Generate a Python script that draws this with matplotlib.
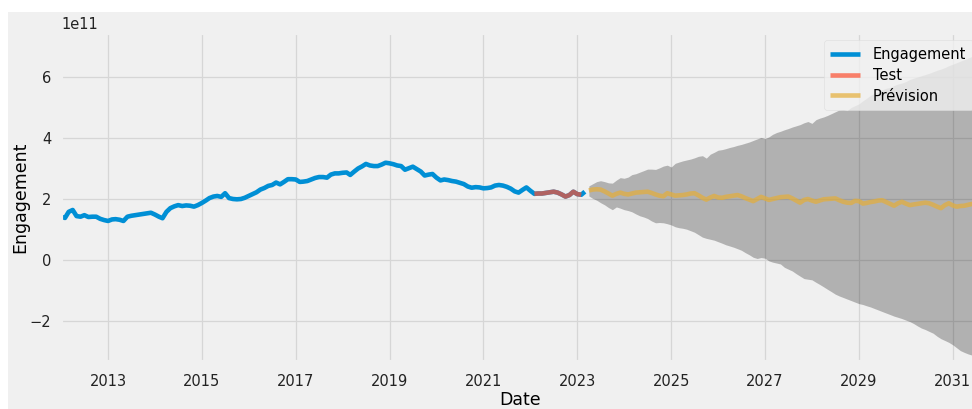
import pandas as pd
import numpy as np
import matplotlib
matplotlib.use('Agg')
import matplotlib.pyplot as plt
import matplotlib.dates as mdates
from matplotlib.patches import Rectangle

plt.style.use('fivethirtyeight')
plt.rcParams['font.family'] = ['DejaVu Sans']

# monthly engagement, in units of 1e11 (2012-01 .. 2023-03)
engagement = [
    1.42, 1.38, 1.58, 1.64, 1.44, 1.42, 1.47, 1.41, 1.42, 1.42, 1.35, 1.31,
    1.28, 1.33, 1.34, 1.32, 1.28, 1.42, 1.45, 1.47, 1.49, 1.51, 1.53, 1.55,
    1.49, 1.42, 1.37, 1.58, 1.70, 1.76, 1.80, 1.77, 1.79, 1.78, 1.75, 1.80,
    1.87, 1.95, 2.03, 2.08, 2.10, 2.07, 2.19, 2.03, 2.00, 1.99, 2.00, 2.04,
    2.10, 2.16, 2.22, 2.31, 2.36, 2.43, 2.46, 2.54, 2.48, 2.56, 2.65, 2.65,
    2.64, 2.56, 2.57, 2.59, 2.64, 2.69, 2.72, 2.72, 2.70, 2.80, 2.84, 2.84,
    2.86, 2.87, 2.79, 2.90, 3.00, 3.07, 3.15, 3.10, 3.08, 3.08, 3.13, 3.19,
    3.17, 3.14, 3.10, 3.08, 2.96, 3.01, 3.06, 2.98, 2.90, 2.77, 2.80, 2.82,
    2.70, 2.61, 2.64, 2.62, 2.59, 2.57, 2.53, 2.49, 2.41, 2.37, 2.39, 2.38,
    2.35, 2.36, 2.38, 2.44, 2.46, 2.44, 2.40, 2.34, 2.25, 2.21, 2.30, 2.38,
    2.27, 2.17, 2.18, 2.18, 2.20, 2.22, 2.24, 2.21, 2.15, 2.08, 2.13, 2.24,
    2.16, 2.14, 2.24,
]

# hold-out period (2022-02 .. 2023-02)
test = [2.17, 2.18, 2.18, 2.20, 2.22, 2.24, 2.21, 2.15, 2.08, 2.13, 2.24,
        2.16, 2.14]

# forecast mean and confidence bounds (2023-04 .. 2031-08)
prevision = [
    2.28, 2.31, 2.32, 2.31, 2.25, 2.18, 2.11, 2.17, 2.21, 2.17, 2.15, 2.18,
    2.21, 2.22, 2.23, 2.24, 2.20, 2.15, 2.11, 2.09, 2.19, 2.15, 2.11, 2.12,
    2.13, 2.15, 2.18, 2.19, 2.12, 2.04, 1.98, 2.05, 2.10, 2.05, 2.04, 2.07,
    2.09, 2.11, 2.13, 2.09, 2.03, 1.98, 1.93, 2.00, 2.07, 2.02, 1.97, 2.00,
    2.03, 2.06, 2.07, 2.08, 2.02, 1.95, 1.88, 1.97, 2.00, 1.95, 1.91, 1.95,
    1.99, 2.00, 2.01, 2.02, 1.96, 1.91, 1.88, 1.87, 1.94, 1.93, 1.85, 1.87,
    1.90, 1.92, 1.95, 1.96, 1.90, 1.84, 1.78, 1.86, 1.91, 1.85, 1.80, 1.82,
    1.84, 1.86, 1.88, 1.86, 1.81, 1.75, 1.70, 1.80, 1.86, 1.79, 1.75, 1.77,
    1.78, 1.81, 1.84, 1.85, 1.86,
]
ci_upper = [
    2.43, 2.50, 2.57, 2.60, 2.57, 2.53, 2.52, 2.62, 2.70, 2.68, 2.72, 2.80,
    2.83, 2.88, 2.93, 2.98, 2.98, 2.97, 3.02, 3.08, 3.11, 3.05, 3.17, 3.21,
    3.25, 3.28, 3.31, 3.35, 3.40, 3.42, 3.34, 3.47, 3.53, 3.60, 3.62, 3.65,
    3.69, 3.72, 3.76, 3.79, 3.83, 3.87, 3.92, 3.97, 4.02, 3.98, 4.04, 4.12,
    4.18, 4.22, 4.27, 4.31, 4.36, 4.40, 4.44, 4.50, 4.54, 4.48, 4.60, 4.65,
    4.69, 4.74, 4.80, 4.86, 4.92, 4.93, 4.90, 5.00, 5.06, 5.12, 5.22, 5.30,
    5.40, 5.46, 5.52, 5.58, 5.63, 5.66, 5.72, 5.77, 5.80, 5.85, 5.92, 5.96,
    6.00, 6.04, 6.08, 6.12, 6.17, 6.22, 6.26, 6.31, 6.37, 6.42, 6.47, 6.52,
    6.57, 6.62, 6.68, 6.72, 6.76,
]
ci_lower = [
    2.10, 2.02, 1.96, 1.88, 1.81, 1.72, 1.65, 1.74, 1.70, 1.65, 1.62, 1.58,
    1.51, 1.45, 1.41, 1.36, 1.28, 1.22, 1.23, 1.22, 1.19, 1.15, 1.09, 1.06,
    1.04, 1.01, 0.96, 0.91, 0.83, 0.75, 0.71, 0.68, 0.65, 0.60, 0.55, 0.50,
    0.46, 0.42, 0.37, 0.32, 0.24, 0.17, 0.09, 0.05, 0.08, 0.06, -0.03, -0.07,
    -0.10, -0.13, -0.24, -0.30, -0.36, -0.45, -0.53, -0.61, -0.63, -0.65, -0.73, -0.80,
    -0.88, -0.96, -1.04, -1.12, -1.18, -1.23, -1.28, -1.33, -1.38, -1.43, -1.46, -1.50,
    -1.54, -1.59, -1.64, -1.69, -1.74, -1.79, -1.84, -1.88, -1.92, -1.97, -2.02, -2.08,
    -2.16, -2.23, -2.28, -2.34, -2.40, -2.50, -2.58, -2.64, -2.70, -2.78, -2.88, -2.97,
    -3.03, -3.08, -3.12, -3.16, -3.20,
]

year_ticks = ['2013', '2015', '2017', '2019', '2021', '2023', '2025', '2027', '2029', '2031']

scale = 1e11
idx_eng = pd.date_range('2012-01-01', periods=len(engagement), freq='MS')
idx_test = pd.date_range('2022-02-01', periods=len(test), freq='MS')
idx_prev = pd.date_range('2023-04-01', periods=len(prevision), freq='MS')

eng = pd.Series(np.array(engagement) * scale, index=idx_eng)
tst = pd.Series(np.array(test) * scale, index=idx_test)
prev = pd.Series(np.array(prevision) * scale, index=idx_prev)
low = np.array(ci_lower) * scale
up = np.array(ci_upper) * scale

fig = plt.figure(figsize=(9.72, 4.09), dpi=100, facecolor='white')
fig.patches.append(Rectangle((8 / 972, 0), 1, 397 / 409, transform=fig.transFigure,
                             facecolor='#f0f0f0', edgecolor='none', zorder=-10))
ax = fig.add_axes([61 / 972, 47 / 409, 919 / 972, 329 / 409])
ax.set_facecolor('#f0f0f0')

ax.plot(eng.index, eng.values, color='#008fd5', lw=3.3, label='Engagement')
ax.plot(tst.index, tst.values, color='#fc4f30', lw=3.3, alpha=0.7, label='Test')
ax.plot(prev.index, prev.values, color='#e5ae38', lw=3.3, alpha=0.7, label='Prévision')
ax.fill_between(prev.index, low, up, color='k', alpha=0.26, lw=0)

ax.set_xlim(idx_eng[0], idx_prev[-1])
ax.set_ylim(-3.344e11, 7.443e11)
ax.set_yticks(np.array([-2, 0, 2, 4, 6]) * scale)
ax.set_xticks(pd.to_datetime([y + '-01-01' for y in year_ticks]))
ax.xaxis.set_major_formatter(mdates.DateFormatter('%Y'))
ax.tick_params(labelsize=10.5, length=0, colors='#222222')
ax.tick_params(axis='x', pad=9)
ax.tick_params(axis='y', pad=7)
ax.yaxis.get_offset_text().set_fontsize(10.5)
ax.grid(color='#d6d6d6', lw=0.9)

ax.set_xlabel('Date', fontsize=12.5, labelpad=1)
ax.set_ylabel('Engagement', fontsize=12.5, labelpad=0)

leg = ax.legend(loc='upper right', fontsize=10.5, framealpha=0.8,
                labelspacing=0.4, handletextpad=0.9, borderpad=0.45)
leg.get_frame().set_facecolor('#f0f0f0')
leg.get_frame().set_edgecolor('#dddddd')

fig.savefig('out.png', dpi=100, facecolor=fig.get_facecolor())
